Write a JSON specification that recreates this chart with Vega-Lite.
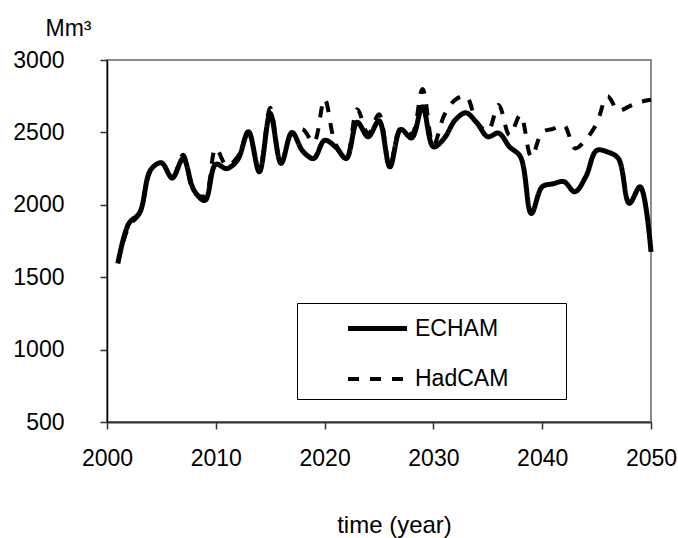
{
  "$schema": "https://vega.github.io/schema/vega-lite/v6.json",
  "width": 544,
  "height": 362,
  "autosize": {"type": "none"},
  "padding": {"left": 107, "top": 60, "right": 27, "bottom": 116},
  "background": "white",
  "config": {
    "view": {"stroke": "#8c8c8c", "strokeWidth": 2},
    "font": "Liberation Sans"
  },
  "data": {
    "values": [
      {"year": 2001, "model": "ECHAM", "value": 1595},
      {"year": 2002, "model": "ECHAM", "value": 1870},
      {"year": 2003, "model": "ECHAM", "value": 1945},
      {"year": 2004, "model": "ECHAM", "value": 2240},
      {"year": 2005, "model": "ECHAM", "value": 2290},
      {"year": 2006, "model": "ECHAM", "value": 2185},
      {"year": 2007, "model": "ECHAM", "value": 2320},
      {"year": 2008, "model": "ECHAM", "value": 2100},
      {"year": 2009, "model": "ECHAM", "value": 2030},
      {"year": 2010, "model": "ECHAM", "value": 2280},
      {"year": 2011, "model": "ECHAM", "value": 2250},
      {"year": 2012, "model": "ECHAM", "value": 2310},
      {"year": 2013, "model": "ECHAM", "value": 2505},
      {"year": 2014, "model": "ECHAM", "value": 2228},
      {"year": 2015, "model": "ECHAM", "value": 2630},
      {"year": 2016, "model": "ECHAM", "value": 2286},
      {"year": 2017, "model": "ECHAM", "value": 2500},
      {"year": 2018, "model": "ECHAM", "value": 2370},
      {"year": 2019, "model": "ECHAM", "value": 2320},
      {"year": 2020, "model": "ECHAM", "value": 2445},
      {"year": 2021, "model": "ECHAM", "value": 2400},
      {"year": 2022, "model": "ECHAM", "value": 2320},
      {"year": 2023, "model": "ECHAM", "value": 2570},
      {"year": 2024, "model": "ECHAM", "value": 2470},
      {"year": 2025, "model": "ECHAM", "value": 2580},
      {"year": 2026, "model": "ECHAM", "value": 2262},
      {"year": 2027, "model": "ECHAM", "value": 2520},
      {"year": 2028, "model": "ECHAM", "value": 2462},
      {"year": 2029, "model": "ECHAM", "value": 2677},
      {"year": 2030, "model": "ECHAM", "value": 2400},
      {"year": 2031, "model": "ECHAM", "value": 2460},
      {"year": 2032, "model": "ECHAM", "value": 2585},
      {"year": 2033, "model": "ECHAM", "value": 2635},
      {"year": 2034, "model": "ECHAM", "value": 2565},
      {"year": 2035, "model": "ECHAM", "value": 2470},
      {"year": 2036, "model": "ECHAM", "value": 2495},
      {"year": 2037, "model": "ECHAM", "value": 2400},
      {"year": 2038, "model": "ECHAM", "value": 2332},
      {"year": 2039, "model": "ECHAM", "value": 1940},
      {"year": 2040, "model": "ECHAM", "value": 2124},
      {"year": 2041, "model": "ECHAM", "value": 2145},
      {"year": 2042, "model": "ECHAM", "value": 2160},
      {"year": 2043, "model": "ECHAM", "value": 2090},
      {"year": 2044, "model": "ECHAM", "value": 2193},
      {"year": 2045, "model": "ECHAM", "value": 2375},
      {"year": 2046, "model": "ECHAM", "value": 2365},
      {"year": 2047, "model": "ECHAM", "value": 2320},
      {"year": 2048, "model": "ECHAM", "value": 2010},
      {"year": 2049, "model": "ECHAM", "value": 2124},
      {"year": 2050, "model": "ECHAM", "value": 1675},
      {"year": 2001, "model": "HadCAM", "value": 1600},
      {"year": 2002, "model": "HadCAM", "value": 1850},
      {"year": 2003, "model": "HadCAM", "value": 1940},
      {"year": 2004, "model": "HadCAM", "value": 2230},
      {"year": 2005, "model": "HadCAM", "value": 2290},
      {"year": 2006, "model": "HadCAM", "value": 2190},
      {"year": 2007, "model": "HadCAM", "value": 2345},
      {"year": 2008, "model": "HadCAM", "value": 2085},
      {"year": 2009, "model": "HadCAM", "value": 2060},
      {"year": 2010, "model": "HadCAM", "value": 2390},
      {"year": 2011, "model": "HadCAM", "value": 2270},
      {"year": 2012, "model": "HadCAM", "value": 2330},
      {"year": 2013, "model": "HadCAM", "value": 2500},
      {"year": 2014, "model": "HadCAM", "value": 2230},
      {"year": 2015, "model": "HadCAM", "value": 2670},
      {"year": 2016, "model": "HadCAM", "value": 2290},
      {"year": 2017, "model": "HadCAM", "value": 2500},
      {"year": 2018, "model": "HadCAM", "value": 2520},
      {"year": 2019, "model": "HadCAM", "value": 2430},
      {"year": 2020, "model": "HadCAM", "value": 2730},
      {"year": 2021, "model": "HadCAM", "value": 2420},
      {"year": 2022, "model": "HadCAM", "value": 2330},
      {"year": 2023, "model": "HadCAM", "value": 2660},
      {"year": 2024, "model": "HadCAM", "value": 2490},
      {"year": 2025, "model": "HadCAM", "value": 2625},
      {"year": 2026, "model": "HadCAM", "value": 2270},
      {"year": 2027, "model": "HadCAM", "value": 2530},
      {"year": 2028, "model": "HadCAM", "value": 2490},
      {"year": 2029, "model": "HadCAM", "value": 2800},
      {"year": 2030, "model": "HadCAM", "value": 2410},
      {"year": 2031, "model": "HadCAM", "value": 2620},
      {"year": 2032, "model": "HadCAM", "value": 2725},
      {"year": 2033, "model": "HadCAM", "value": 2750},
      {"year": 2034, "model": "HadCAM", "value": 2570},
      {"year": 2035, "model": "HadCAM", "value": 2510},
      {"year": 2036, "model": "HadCAM", "value": 2690},
      {"year": 2037, "model": "HadCAM", "value": 2480},
      {"year": 2038, "model": "HadCAM", "value": 2620},
      {"year": 2039, "model": "HadCAM", "value": 2330},
      {"year": 2040, "model": "HadCAM", "value": 2500},
      {"year": 2041, "model": "HadCAM", "value": 2525},
      {"year": 2042, "model": "HadCAM", "value": 2550},
      {"year": 2043, "model": "HadCAM", "value": 2390},
      {"year": 2044, "model": "HadCAM", "value": 2450},
      {"year": 2045, "model": "HadCAM", "value": 2560},
      {"year": 2046, "model": "HadCAM", "value": 2750},
      {"year": 2047, "model": "HadCAM", "value": 2650},
      {"year": 2048, "model": "HadCAM", "value": 2680},
      {"year": 2049, "model": "HadCAM", "value": 2710},
      {"year": 2050, "model": "HadCAM", "value": 2725}
    ]
  },
  "mark": {"type": "line", "interpolate": "catmull-rom", "color": "black", "strokeCap": "butt", "strokeJoin": "round"},
  "encoding": {
    "x": {
      "field": "year",
      "type": "quantitative",
      "scale": {"domain": [2000, 2050], "nice": false, "zero": false},
      "axis": {
        "values": [2000, 2010, 2020, 2030, 2040, 2050],
        "format": "d",
        "title": "time (year)",
        "grid": false,
        "domainColor": "#333333",
        "domainWidth": 2,
        "tickColor": "#333333",
        "tickWidth": 1.5,
        "tickSize": 7,
        "labelFont": "Liberation Sans",
        "labelFontSize": 23,
        "labelColor": "black",
        "labelPadding": 18,
        "labelFlush": false,
        "titleFont": "Liberation Sans",
        "titleFontSize": 24,
        "titleFontWeight": "normal",
        "titleColor": "black",
        "titleX": 287,
        "titleY": 110,
        "titleAlign": "center",
        "titleBaseline": "alphabetic",
        "zindex": 1
      }
    },
    "y": {
      "field": "value",
      "type": "quantitative",
      "scale": {"domain": [500, 3000], "nice": false, "zero": false},
      "axis": {
        "values": [500, 1000, 1500, 2000, 2500, 3000],
        "format": "d",
        "title": "Mm³",
        "grid": false,
        "domainColor": "black",
        "domainWidth": 1.5,
        "tickColor": "#333333",
        "tickWidth": 1.5,
        "tickSize": 7,
        "labelFont": "Liberation Sans",
        "labelFontSize": 23,
        "labelColor": "black",
        "labelPadding": 36,
        "labelBaseline": "middle",
        "titleFont": "Liberation Sans",
        "titleFontSize": 23,
        "titleFontWeight": "normal",
        "titleColor": "black",
        "titleAngle": 0,
        "titleX": -62,
        "titleY": -25,
        "titleAlign": "left",
        "titleBaseline": "alphabetic",
        "zindex": 1
      }
    },
    "strokeDash": {
      "field": "model",
      "type": "nominal",
      "scale": {"domain": ["ECHAM", "HadCAM"], "range": [[1, 0], [11, 11]]},
      "legend": {
        "title": "\u00a0",
        "titleOrient": "right",
        "titlePadding": 50,
        "titleFontSize": 23,
        "titleFont": "Liberation Sans",
        "orient": "none",
        "legendX": 190,
        "legendY": 243,
        "strokeColor": "black",
        "fillColor": "white",
        "padding": 8,
        "rowPadding": 21,
        "symbolType": "M-2,0H2",
        "symbolSize": 870,
        "symbolStrokeWidth": 4.5,
        "symbolStrokeColor": "black",
        "symbolFillColor": "transparent",
        "symbolOffset": 55,
        "labelOffset": 20,
        "labelFont": "Liberation Sans",
        "labelFontSize": 23,
        "labelColor": "black"
      }
    },
    "strokeWidth": {
      "field": "model",
      "type": "nominal",
      "scale": {"domain": ["ECHAM", "HadCAM"], "range": [5, 4]},
      "legend": null
    }
  }
}
